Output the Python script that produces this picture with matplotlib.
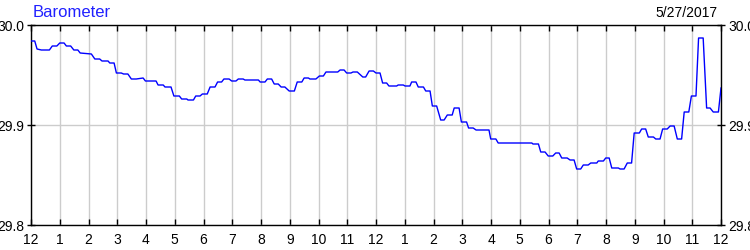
import matplotlib
matplotlib.use("Agg")
import matplotlib.pyplot as plt

# hours since midnight (0..24) and barometer readings (inHg)
hours = [0.00, 0.13, 0.21, 0.36, 0.64, 0.74, 0.90, 1.00, 1.15, 1.23, 1.38, 1.49,
         1.63, 1.71, 2.10, 2.22, 2.39, 2.47, 2.68, 2.74, 2.89, 2.97, 3.14, 3.22,
         3.37, 3.49, 3.66, 3.90, 3.98, 4.18, 4.35, 4.42, 4.60, 4.66, 4.87, 4.97,
         5.16, 5.24, 5.42, 5.46, 5.65, 5.73, 5.88, 5.96, 6.13, 6.23, 6.40, 6.49,
         6.63, 6.71, 6.89, 6.98, 7.13, 7.21, 7.38, 7.44, 7.91, 7.97, 8.14, 8.22,
         8.37, 8.46, 8.60, 8.70, 8.83, 8.98, 9.16, 9.26, 9.42, 9.50, 9.65, 9.70,
         9.91, 10.03, 10.17, 10.26, 10.67, 10.75, 10.89, 10.98, 11.13, 11.20, 11.35, 11.54,
         11.64, 11.76, 11.91, 12.00, 12.14, 12.23, 12.37, 12.45, 12.72, 12.77, 12.95, 13.01,
         13.18, 13.24, 13.39, 13.47, 13.65, 13.73, 13.88, 13.96, 14.11, 14.25, 14.37, 14.48,
         14.65, 14.72, 14.89, 14.97, 15.15, 15.22, 15.38, 15.48, 15.93, 15.99, 16.17, 16.25,
         17.42, 17.46, 17.65, 17.73, 17.88, 17.99, 18.15, 18.25, 18.37, 18.46, 18.65, 18.75,
         18.89, 18.98, 19.12, 19.21, 19.38, 19.47, 19.68, 19.73, 19.91, 19.99, 20.11, 20.20,
         20.43, 20.49, 20.63, 20.74, 20.89, 20.98, 21.16, 21.24, 21.38, 21.47, 21.65, 21.73,
         21.88, 21.97, 22.13, 22.23, 22.37, 22.48, 22.63, 22.72, 22.88, 22.97, 23.13, 23.22,
         23.38, 23.50, 23.62, 23.73, 23.91, 24.00]
pressure = [29.984, 29.984, 29.976, 29.975, 29.975, 29.979, 29.979, 29.982, 29.982, 29.979, 29.979, 29.975,
            29.975, 29.972, 29.971, 29.966, 29.966, 29.964, 29.964, 29.962, 29.962, 29.952, 29.952, 29.951,
            29.951, 29.946, 29.946, 29.947, 29.944, 29.944, 29.944, 29.940, 29.940, 29.938, 29.938, 29.929,
            29.929, 29.926, 29.926, 29.925, 29.925, 29.929, 29.929, 29.931, 29.931, 29.938, 29.938, 29.943,
            29.943, 29.946, 29.946, 29.944, 29.944, 29.946, 29.946, 29.945, 29.945, 29.943, 29.943, 29.946,
            29.946, 29.941, 29.941, 29.938, 29.938, 29.934, 29.934, 29.943, 29.943, 29.947, 29.947, 29.946,
            29.946, 29.949, 29.949, 29.953, 29.953, 29.955, 29.955, 29.952, 29.952, 29.953, 29.953, 29.948,
            29.948, 29.954, 29.954, 29.952, 29.952, 29.942, 29.942, 29.939, 29.939, 29.940, 29.940, 29.939,
            29.939, 29.943, 29.943, 29.938, 29.938, 29.934, 29.934, 29.919, 29.919, 29.905, 29.905, 29.910,
            29.910, 29.917, 29.917, 29.903, 29.903, 29.897, 29.897, 29.895, 29.895, 29.886, 29.886, 29.882,
            29.882, 29.881, 29.881, 29.873, 29.873, 29.869, 29.869, 29.872, 29.872, 29.867, 29.867, 29.865,
            29.865, 29.856, 29.856, 29.860, 29.860, 29.862, 29.862, 29.864, 29.864, 29.867, 29.867, 29.857,
            29.857, 29.856, 29.856, 29.862, 29.862, 29.892, 29.892, 29.896, 29.896, 29.888, 29.888, 29.886,
            29.886, 29.896, 29.896, 29.899, 29.899, 29.886, 29.886, 29.913, 29.913, 29.929, 29.929, 29.987,
            29.987, 29.917, 29.917, 29.913, 29.913, 29.937]

hour_labels = ["12", "1", "2", "3", "4", "5", "6", "7", "8", "9", "10", "11",
               "12", "1", "2", "3", "4", "5", "6", "7", "8", "9", "10", "11", "12"]
y_ticks = [29.8, 29.9, 30.0]
title = "Barometer"
date_text = "5/27/2017"

plt.rcParams["font.family"] = ["Liberation Sans", "DejaVu Sans"]

fig = plt.figure(figsize=(7.5, 2.5), dpi=100)
ax = fig.add_axes([31 / 750, 25 / 250, 690 / 750, 200 / 250])

ax.plot(hours, pressure, color="#0000ff", lw=1.0, zorder=3)

ax.set_xlim(0, 24)
ax.set_ylim(29.8, 30.0)
ax.set_xticks(range(len(hour_labels)))
ax.set_xticklabels(hour_labels)
ax.set_yticks(y_ticks)
ax.set_yticklabels(["%.1f" % v for v in y_ticks])

ax.grid(True, color="#cccccc", lw=1.0, zorder=0)
ax.tick_params(axis="x", which="both", direction="in", length=4, width=1,
               top=True, bottom=True, labelsize=10, pad=6)
ax.tick_params(axis="y", direction="inout", length=6, width=1,
               left=True, right=True, labelleft=True, labelright=True,
               labelsize=10, pad=2)
for s in ax.spines.values():
    s.set_color("black")
    s.set_linewidth(1.0)

fig.text(33 / 750, 1 - 17 / 250, title, color="#2020ff", fontsize=12, ha="left", va="baseline")
fig.text(718 / 750, 1 - 17 / 250, date_text, color="black", fontsize=10, ha="right", va="baseline")

fig.savefig("out.png", dpi=100)
